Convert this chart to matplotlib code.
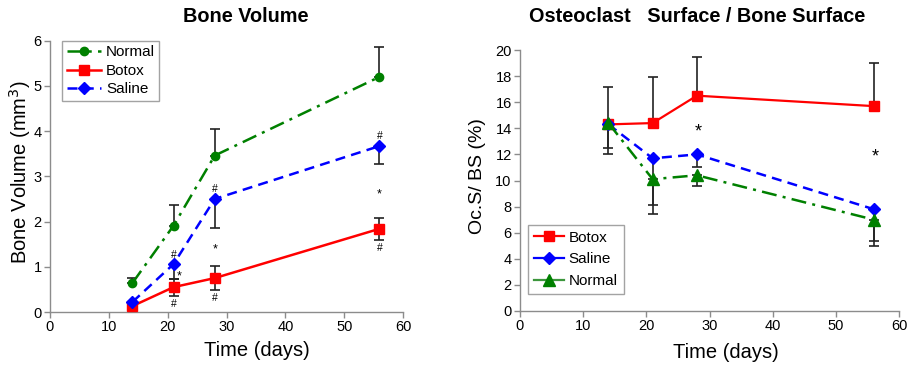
import matplotlib
matplotlib.use("Agg")
import matplotlib.pyplot as plt
import numpy as np
from matplotlib.lines import Line2D

plt.rcParams['font.family'] = ['Liberation Sans', 'DejaVu Sans']

days = [14, 21, 28, 56]

# Bone volume (mm^3)
bv_normal = [0.64, 1.91, 3.46, 5.20]
bv_normal_err_up = [0.12, 0.45, 0.58, 0.65]
bv_botox = [0.13, 0.55, 0.75, 1.84]
bv_botox_err = [0.08, 0.19, 0.26, 0.24]
bv_saline = [0.22, 1.06, 2.50, 3.67]
bv_saline_err_lo = [0.12, 0.33, 0.64, 0.39]

# Osteoclast surface / bone surface (%)
oc_botox = [14.3, 14.4, 16.5, 15.7]
oc_botox_err_up = [2.9, 3.5, 3.0, 3.3]
oc_saline = [14.3, 11.7, 12.0, 7.8]
oc_saline_err_lo = [1.8, 3.6, 1.0, 2.4]
oc_normal = [14.4, 10.1, 10.4, 7.0]
oc_normal_err_lo = [2.4, 2.7, 0.8, 2.0]

GREEN = '#008000'
RED = '#FF0000'
BLUE = '#0000FF'
ECOL = '#222222'
SPINE = '#8c8c8c'

fig = plt.figure(figsize=(9.09, 3.70), dpi=100)
W, H = 909, 370

def axes_px(x0, x1, ytop, ybot):
    return fig.add_axes([x0 / W, 1 - ybot / H, (x1 - x0) / W, (ybot - ytop) / H])

def style(ax):
    for s in ['top', 'right']:
        ax.spines[s].set_visible(False)
    for s in ['left', 'bottom']:
        ax.spines[s].set_color(SPINE)
        ax.spines[s].set_linewidth(1.0)
    ax.tick_params(direction='out', length=4, width=1, color=SPINE, labelsize=10.5, pad=2)

DASHDOT = (0, (6, 2.5, 1.2, 2.5))
DASHED = (0, (4, 2.5))

# ---------------- Left panel ----------------
ax1 = axes_px(50, 403, 40.7, 312)
style(ax1)
eb = dict(fmt='none', ecolor=ECOL, elinewidth=1.2, capsize=3.5, capthick=1.2, zorder=2)
ax1.errorbar(days, bv_normal, yerr=[np.zeros(4), bv_normal_err_up], **eb)
ax1.errorbar(days, bv_botox, yerr=[bv_botox_err, bv_botox_err], **eb)
ax1.errorbar(days, bv_saline, yerr=[bv_saline_err_lo, np.zeros(4)], **eb)
ax1.plot(days, bv_normal, color=GREEN, ls=DASHDOT, lw=1.8, marker='o', ms=6, label='Normal', zorder=3)
ax1.plot(days, bv_botox, color=RED, ls='-', lw=1.8, marker='s', ms=6.5, label='Botox', zorder=3)
ax1.plot(days, bv_saline, color=BLUE, ls=DASHED, lw=1.8, marker='D', ms=6, label='Saline', zorder=3)
ax1.set_xlim(0, 60)
ax1.set_ylim(0, 6)
ax1.set_xticks(range(0, 61, 10))
ax1.set_yticks(range(0, 7))

# annotations
ann_fs = 7.5
for x, y in [(21, 1.27), (28, 2.72), (56, 3.9)]:
    ax1.text(x, y, '#', ha='center', va='center', fontsize=ann_fs)
for x, y in [(21, 0.18), (28, 0.30), (56, 1.42)]:
    ax1.text(x, y, '#', ha='center', va='center', fontsize=ann_fs)
for x, y in [(22.0, 0.78), (28, 1.38), (56, 2.6)]:
    ax1.text(x, y, '*', ha='center', va='center', fontsize=9)

h1 = [Line2D([], [], color=GREEN, ls=DASHDOT, lw=1.8, marker='o', ms=6),
      Line2D([], [], color=RED, ls='-', lw=1.8, marker='s', ms=6.5),
      Line2D([], [], color=BLUE, ls=DASHED, lw=1.8, marker='D', ms=6)]
leg1 = ax1.legend(h1, ['Normal', 'Botox', 'Saline'], loc='upper left', bbox_to_anchor=(0.035, 1.0),
                  fontsize=11, frameon=True, fancybox=False, edgecolor=SPINE, handlelength=2.2,
                  handletextpad=0.35, labelspacing=0.3, borderpad=0.3, borderaxespad=0.0)
leg1.get_frame().set_linewidth(1.0)

fig.text(245.5 / W, 1 - 17 / H, 'Bone Volume', ha='center', va='center', fontsize=14.3, fontweight='bold')
fig.text(257 / W, 1 - 350 / H, 'Time (days)', ha='center', va='center', fontsize=14.5)
fig.text(20 / W, 1 - 264 / H, 'Bone Volume (mm$^3$)', ha='center', va='bottom', rotation=90, fontsize=14.5)

# ---------------- Right panel ----------------
ax2 = axes_px(520, 899, 50, 311)
style(ax2)
ax2.errorbar(days, oc_botox, yerr=[np.zeros(4), oc_botox_err_up], **eb)
ax2.errorbar(days, oc_saline, yerr=[oc_saline_err_lo, np.zeros(4)], **eb)
ax2.errorbar(days, oc_normal, yerr=[oc_normal_err_lo, np.zeros(4)], **eb)
ax2.plot(days, oc_botox, color=RED, ls='-', lw=1.6, marker='s', ms=7, label='Botox', zorder=3)
ax2.plot(days, oc_saline, color=BLUE, ls=DASHED, lw=1.8, marker='D', ms=6.5, label='Saline', zorder=3)
ax2.plot(days, oc_normal, color=GREEN, ls=DASHDOT, lw=1.8, marker='^', ms=8, label='Normal', zorder=3)
ax2.set_xlim(0, 60)
ax2.set_ylim(0, 20)
ax2.set_xticks(range(0, 61, 10))
ax2.set_yticks(range(0, 21, 2))
for x, y in [(28.2, 13.7), (56.2, 11.8)]:
    ax2.text(x, y, '*', ha='center', va='center', fontsize=13)

h2 = [Line2D([], [], color=RED, lw=1.6, marker='s', ms=7),
      Line2D([], [], color=BLUE, lw=1.6, marker='D', ms=6.5),
      Line2D([], [], color='#3c963c', lw=1.6, marker='^', ms=8, mfc=GREEN, mec=GREEN)]
leg2 = ax2.legend(h2, ['Botox', 'Saline', 'Normal'], loc='lower left', bbox_to_anchor=(0.02, 0.065),
                  fontsize=11, frameon=True, fancybox=False, edgecolor=SPINE, handlelength=2.0,
                  handletextpad=0.3, labelspacing=0.5, borderpad=0.4, borderaxespad=0.0)
leg2.get_frame().set_linewidth(1.0)

fig.text(697.5 / W, 1 - 17 / H, 'Osteoclast   Surface / Bone Surface', ha='center', va='center',
         fontsize=14.3, fontweight='bold')
fig.text(725.5 / W, 1 - 352 / H, 'Time (days)', ha='center', va='center', fontsize=14.5)
fig.text(478 / W, 1 - 176 / H, 'Oc.S/ BS (%)', ha='center', va='center', rotation=90, fontsize=14)

fig.savefig('out.png', dpi=100)
